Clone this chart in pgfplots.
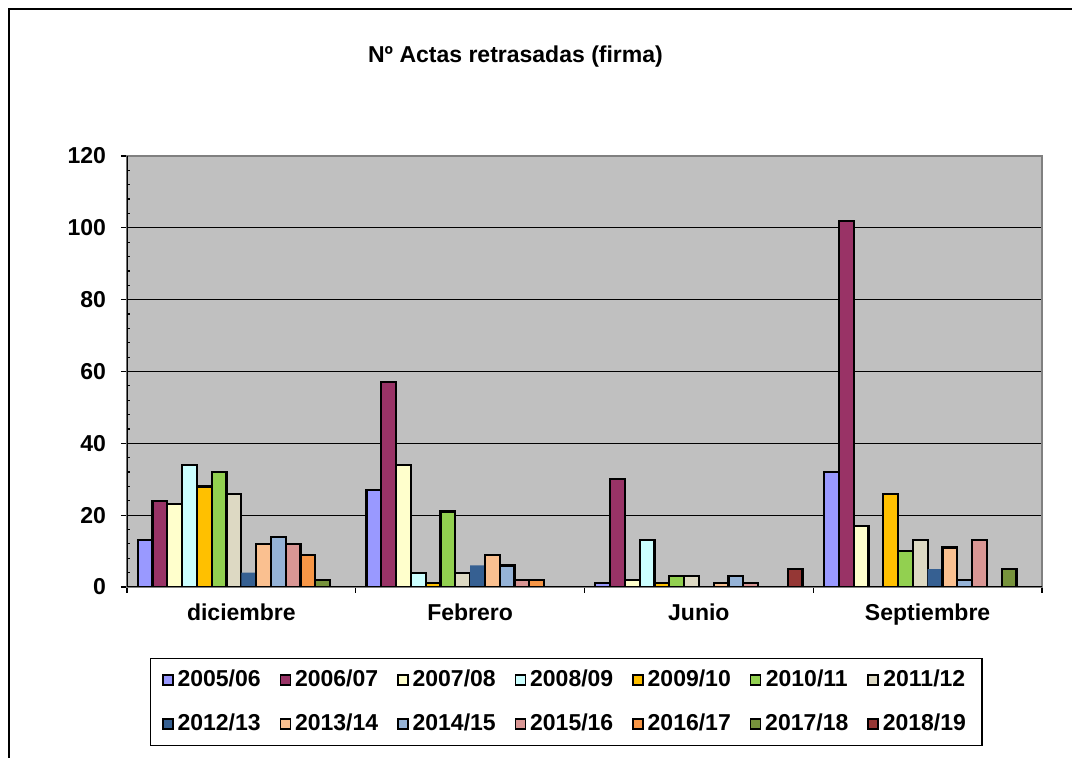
\documentclass[border=0pt]{standalone}
\usepackage{pgfplots}
\pgfplotsset{compat=1.18}
\usepackage{fontspec}
\setmainfont{Liberation Sans}
\definecolor{c1}{HTML}{9999FF}
\definecolor{c2}{HTML}{993366}
\definecolor{c3}{HTML}{FFFFCC}
\definecolor{c4}{HTML}{CCFFFF}
\definecolor{c5}{HTML}{FFC000}
\definecolor{c6}{HTML}{92D050}
\definecolor{c7}{HTML}{DDD9C3}
\definecolor{c8}{HTML}{366092}
\definecolor{c9}{HTML}{FAC090}
\definecolor{c10}{HTML}{95B3D7}
\definecolor{c11}{HTML}{D99694}
\definecolor{c12}{HTML}{F79646}
\definecolor{c13}{HTML}{77933C}
\definecolor{c14}{HTML}{953735}
\definecolor{bggray}{HTML}{C0C0C0}
\definecolor{framegray}{HTML}{808080}
\begin{document}
\begin{tikzpicture}
\useasboundingbox (0,0) rectangle (536pt,379pt);
\draw[black, line width=1pt] (4.5pt,-1pt) -- (4.5pt,374.5pt) -- (537pt,374.5pt);
\node[font=\fontsize{11.5}{13}\selectfont\bfseries] at (257.75pt,350.5pt) {Nº Actas retrasadas (firma)};
\begin{axis}[
  at={(63.5pt,85.5pt)}, anchor=south west,
  scale only axis, width=457.5pt, height=215.5pt,
  xmin=-0.5, xmax=3.5, ymin=0, ymax=120,
  ybar=0pt, bar width=7.4pt,
  font=\fontsize{11.5}{13}\selectfont\bfseries,
  /pgf/number format/assume math mode=true,
  xtick pos=lower, ytick pos=left,
  xtick={-0.5,0.5,1.5,2.5,3.5}, xticklabels={},
  extra x ticks={0,1,2,3},
  extra x tick labels={diciembre,Febrero,Junio,Septiembre},
  extra x tick style={major tick length=0pt, xticklabel style={yshift=-5pt}},
  ytick={0,20,...,120}, minor y tick num=4,
  yticklabel style={xshift=-4pt},
  tick align=outside, major tick length=3pt, minor tick length=1.5pt,
  minor y tick style={xshift=1.5pt},
  tick style={black, line width=0.6pt},
  ymajorgrids, major grid style={black, line width=0.6pt},
  axis background/.style={fill=bggray},
  axis line style={draw=framegray, line width=0.8pt},
  legend columns=7,
  legend style={at={(0.4798,-0.2668)}, anchor=center, draw=black, line width=0.6pt,
    /tikz/every even column/.append style={column sep=7.5pt},
    row sep=8pt, inner xsep=6pt, inner ysep=4pt,
    font=\fontsize{11.5}{13}\selectfont\bfseries},
  legend image code/.code={\draw[#1, line width=0.7pt] (0pt,-2.5pt) rectangle (5pt,2.5pt);},
  every axis plot/.append style={draw=black, line width=1.1pt},
]
\addplot[fill=c1] coordinates {(0,13) (1,27) (2,1) (3,32)};
\addplot[fill=c2] coordinates {(0,24) (1,57) (2,30) (3,102)};
\addplot[fill=c3] coordinates {(0,23) (1,34) (2,2) (3,17)};
\addplot[fill=c4] coordinates {(0,34) (1,4) (2,13)};
\addplot[fill=c5] coordinates {(0,28) (1,1) (2,1) (3,26)};
\addplot[fill=c6] coordinates {(0,32) (1,21) (2,3) (3,10)};
\addplot[fill=c7] coordinates {(0,26) (1,4) (2,3) (3,13)};
\addplot[fill=c8, draw=none] coordinates {(0,4) (1,6) (3,5)};
\addplot[fill=c9] coordinates {(0,12) (1,9) (2,1) (3,11)};
\addplot[fill=c10] coordinates {(0,14) (1,6) (2,3) (3,2)};
\addplot[fill=c11] coordinates {(0,12) (1,2) (2,1) (3,13)};
\addplot[fill=c12] coordinates {(0,9) (1,2)};
\addplot[fill=c13] coordinates {(0,2) (3,5)};
\addplot[fill=c14] coordinates {(2,5)};
\legend{2005/06,2006/07,2007/08,2008/09,2009/10,2010/11,2011/12,2012/13,2013/14,2014/15,2015/16,2016/17,2017/18,2018/19}
\draw[black, line width=0.9pt] (rel axis cs:0,1) -- (rel axis cs:0,0) -- (rel axis cs:1,0);
\end{axis}
\end{tikzpicture}
\end{document}
